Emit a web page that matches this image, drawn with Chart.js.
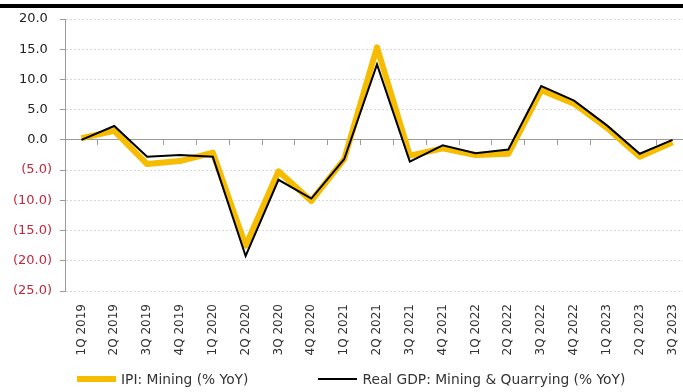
<!DOCTYPE html>
<html>
<head>
<meta charset="utf-8">
<script src="https://cdn.jsdelivr.net/npm/chart.js@4.4.0/dist/chart.umd.min.js"></script>
<style>
  html, body { margin: 0; padding: 0; background: #fff; overflow: hidden; }
  #wrap { position: relative; width: 683px; height: 392px; overflow: hidden; }
  #topbar { position: absolute; left: 0; top: 4px; width: 683px; height: 4px; background: #000; }
  #myChart { position: absolute; left: 0; top: 0; }
  #legend { position: absolute; left: 77px; top: 371px; display: flex; gap: 70px;
            font-family: "DejaVu Sans", sans-serif; font-size: 13.8px; color: #333; }
  .item { display: flex; align-items: center; white-space: nowrap; }
  .sample { display: inline-block; width: 39px; margin-right: 5px; }
</style>
</head>
<body>
<div id="wrap">
  <canvas id="myChart" width="689" height="392"></canvas>
  <div id="topbar"></div>
  <div id="legend"></div>
</div>
<script>
// datos de la grafica
var quarters = ['1Q 2019','2Q 2019','3Q 2019','4Q 2019','1Q 2020','2Q 2020','3Q 2020','4Q 2020',
                '1Q 2021','2Q 2021','3Q 2021','4Q 2021','1Q 2022','2Q 2022','3Q 2022','4Q 2022',
                '1Q 2023','2Q 2023','3Q 2023'];
var ipiMining = [0.3, 1.5, -4.0, -3.5, -2.1, -17.5, -5.2, -10.1, -3.2, 15.3, -2.6, -1.4, -2.5, -2.3, 8.2, 6.0, 2.0, -2.8, -0.4];
var gdpMining = [0.0, 2.3, -2.8, -2.5, -2.8, -19.2, -6.6, -9.7, -3.2, 12.5, -3.6, -0.9, -2.2, -1.6, 8.9, 6.5, 2.4, -2.3, 0.0];
var yMin = -25, yMax = 20, yStep = 5;

var amarillo = '#f5bc00';
var negro = '#000000';
var rojo = '#c0283c';
var gris = '#9a9a9a';

var ctx = document.getElementById("myChart").getContext("2d");
var myChart = new Chart(ctx, {
    type: 'line',
    data: {
        labels: quarters,
        datasets: [{
            label: 'IPI: Mining (% YoY)',
            data: ipiMining,
            borderColor: amarillo,
            backgroundColor: amarillo,
            borderWidth: 6,
            borderJoinStyle: 'round',
            pointRadius: 0,
            tension: 0,
            order: 1
        }, {
            label: 'Real GDP: Mining & Quarrying (% YoY)',
            data: gdpMining,
            borderColor: negro,
            backgroundColor: negro,
            borderWidth: 2,
            pointRadius: 0,
            tension: 0,
            order: 0
        }]
    },
    options: {
        responsive: false,
        animation: false,
        devicePixelRatio: 1,
        layout: { padding: { top: 19, left: 0, right: 0, bottom: 0 } },
        plugins: {
            legend: { display: false },
            tooltip: { enabled: false }
        },
        scales: {
            x: {
                type: 'category',
                position: 'bottom',
                offset: true,
                grid: { display: false },
                border: { display: false },
                ticks: {
                    autoSkip: false,
                    minRotation: 90,
                    maxRotation: 90,
                    padding: 5,
                    color: '#333',
                    font: { family: 'DejaVu Sans', size: 12 }
                },
                afterFit: function(scale) {
                    scale.height = 101;
                    scale.paddingLeft = 0;
                    scale.paddingRight = 0;
                }
            },
            // eje en el cero con sus marcas
            x2: {
                type: 'category',
                position: { y: 0 },
                offset: true,
                grid: { drawOnChartArea: false, drawTicks: true, tickLength: 5, offset: true,
                        tickColor: gris, tickBorderDash: [] },
                border: { display: true, color: gris, width: 1 },
                ticks: { display: false },
                afterFit: function(scale) {
                    scale.paddingLeft = 0;
                    scale.paddingRight = 0;
                }
            },
            y: {
                min: yMin,
                max: yMax,
                ticks: {
                    stepSize: yStep,
                    padding: 8,
                    font: { family: 'DejaVu Sans', size: 13 },
                    color: function(c) { return c.tick.value < 0 ? rojo : '#222'; },
                    callback: function(v) {
                        return v < 0 ? '(' + Math.abs(v).toFixed(1) + ')' : v.toFixed(1) + ' ';
                    }
                },
                grid: {
                    color: function(c) { return c.tick && c.tick.value === 0 ? 'rgba(0,0,0,0)' : '#d9d9d9'; },
                    tickColor: gris,
                    tickLength: 5,
                    tickBorderDash: []
                },
                border: { display: true, color: gris, width: 1, dash: [2, 2] },
                afterFit: function(scale) { scale.width = 65; }
            }
        }
    }
});

// leyenda en HTML
var leg = document.getElementById('legend');
myChart.data.datasets.forEach(function(ds) {
    var it = document.createElement('div');
    it.className = 'item';
    var s = document.createElement('span');
    s.className = 'sample';
    s.style.height = ds.borderWidth + 'px';
    s.style.background = ds.borderColor;
    it.appendChild(s);
    it.appendChild(document.createTextNode(ds.label));
    leg.appendChild(it);
});
</script>
</body>
</html>
